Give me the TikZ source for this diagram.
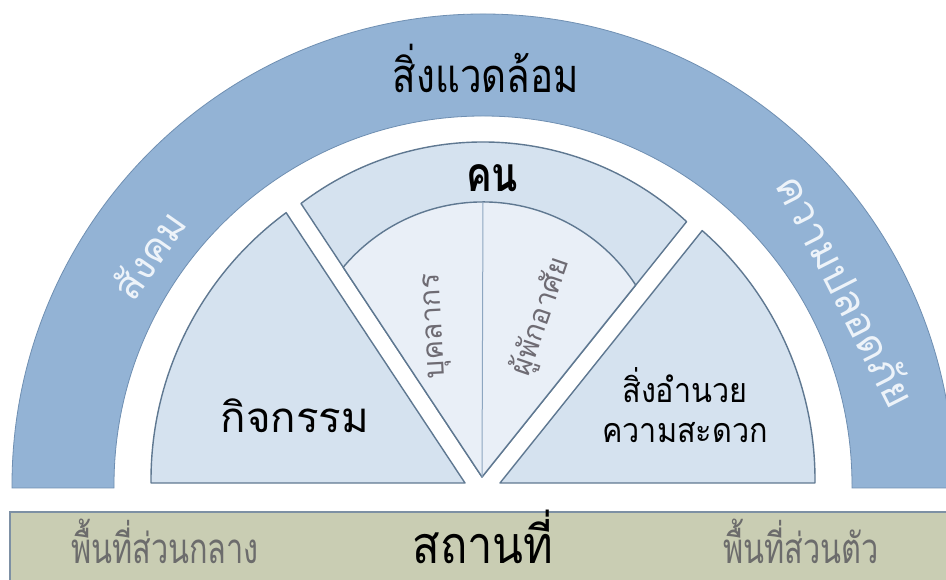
\documentclass[tikz,border=0pt]{standalone}
\usepackage{fontspec}
\newfontfamily\thai[Script=Thai]{Loma}
\definecolor{bandfill}{HTML}{93B3D5}
\definecolor{bandline}{HTML}{6F8FB2}
\definecolor{sectfill}{HTML}{D5E2EF}
\definecolor{innerfill}{HTML}{E9EFF7}
\definecolor{sectline}{HTML}{5F7891}
\definecolor{divline}{HTML}{8DA6C0}
\definecolor{barfill}{HTML}{C9CDB3}
\definecolor{barline}{HTML}{7D90A4}
\definecolor{graytext}{HTML}{6C6C6C}
\definecolor{innertext}{HTML}{6E6B73}
\definecolor{bandtext}{HTML}{EDF3F9}
\tikzset{
  band/.style={fill=bandfill,draw=bandline,line width=0.8pt},
  sector/.style={fill=sectfill,draw=sectline,line width=1.4pt,line join=round},
  inner/.style={fill=innerfill,draw=sectline,line width=1.4pt,line join=round},
  bar/.style={fill=barfill,draw=barline,line width=1.2pt},
  lbl/.style={font=\thai,text=black,inner sep=0pt},
}
\begin{document}
\begin{tikzpicture}[x=1pt,y=1pt]
\useasboundingbox (0,0) rectangle (946,580);
\clip (0,0) rectangle (946,580);
\fill[white] (0,0) rectangle (946,580);
% outer band
\draw[band] (12,92) -- (12,95) arc[start angle=180,end angle=0,radius=471]
  -- (954,92) -- (852,92) -- (852,95) arc[start angle=0,end angle=180,radius=369] -- (114,92) -- cycle;
% left sector
\coordinate (lb) at (151,97);
\coordinate (lc) at (465,97);
\draw[sector] (lb) -- (151,100) arc[start angle=180,end angle=126.37,radius=332] coordinate (lt) -- (lc) -- cycle;
% right sector
\coordinate (rb) at (815,97);
\coordinate (rc) at (500,97);
\draw[sector] (rc) -- (702.2,349.4) coordinate (rt) arc[start angle=48.68,end angle=0,radius=332] -- (815,100) -- (rb) -- cycle;
% middle sector
\coordinate (m) at (482,103);
\draw[sector] (m) -- (301,376.5) arc[start angle=127.35,end angle=47.26,radius=300] -- cycle;
\draw[inner] (m) -- (343.2,312.7) arc[start angle=140.14,end angle=32.93,radius=182] -- cycle;
\coordinate (mt) at (483,378);
\draw[divline,line width=1pt] (m) -- (mt);
% bottom bar
\draw[bar] (10,-5) rectangle (960,68);
% labels
\node[lbl,anchor=base,font=\thai\fontsize{47}{50}\selectfont,xscale=0.82] (env) at (486,487) {สิ่งแวดล้อม};
\node[lbl,anchor=base,font=\thai\bfseries\fontsize{48}{52}\selectfont,xscale=0.8] (people) at (492,388) {คน};
\node[lbl,anchor=base,font=\thai\fontsize{42}{46}\selectfont] (act) at (295,147) {กิจกรรม};
\node[lbl,anchor=base,font=\thai\fontsize{34}{38}\selectfont,xscale=0.9] (fac1) at (685,177) {สิ่งอำนวย};
\node[lbl,anchor=base,font=\thai\fontsize{34}{38}\selectfont,xscale=0.9] (fac2) at (685,137) {ความสะดวก};
\node[lbl,anchor=base,font=\thai\fontsize{52}{56}\selectfont,xscale=0.87] (place) at (483,16) {สถานที่};
\node[lbl,anchor=base,text=graytext,font=\thai\fontsize{42}{46}\selectfont,xscale=0.73] (pub) at (165,16) {พื้นที่ส่วนกลาง};
\node[lbl,anchor=base,text=graytext,font=\thai\fontsize{42}{46}\selectfont,xscale=0.73] (priv) at (801,16) {พื้นที่ส่วนตัว};
\node[lbl,text=bandtext,font=\thai\fontsize{40}{44}\selectfont,rotate=55] (soc) at (148,325) {สังคม};
\node[lbl,text=bandtext,font=\thai\fontsize{41}{45}\selectfont,rotate=-63] (safe) at (847,290) {ความปลอดภัย};
\node[lbl,text=innertext,font=\thai\fontsize{29}{32}\selectfont,rotate=93] (staff) at (437,254) {บุคลากร};
\node[lbl,text=innertext,font=\thai\fontsize{29}{32}\selectfont,rotate=71] (res) at (541,263) {ผู้พักอาศัย};
\end{tikzpicture}
\end{document}
